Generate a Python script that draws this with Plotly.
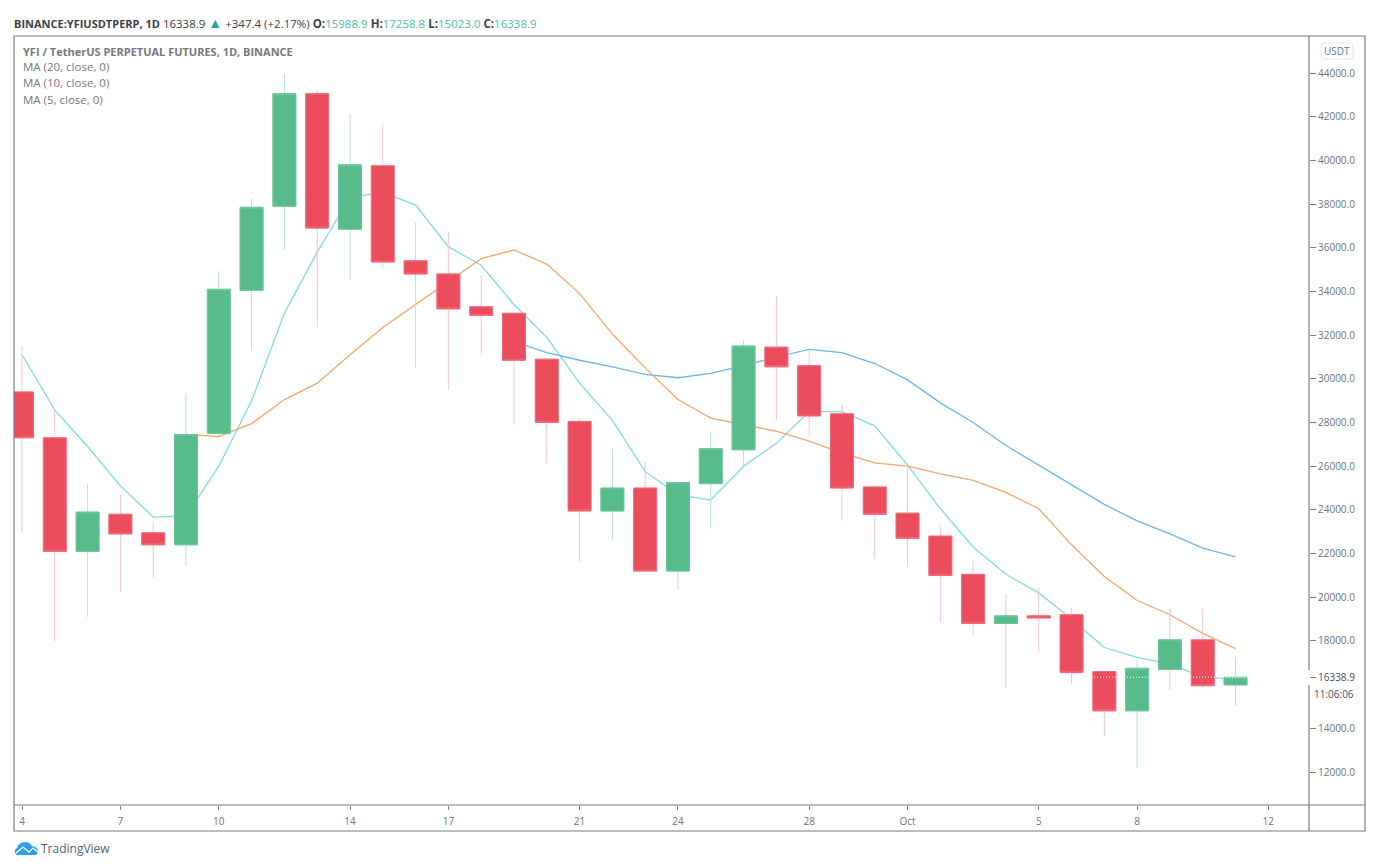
import pandas as pd
import plotly.graph_objects as go

dates = pd.date_range("2020-09-04", "2020-10-11").strftime("%Y-%m-%d").tolist()

opens = [29400, 27300, 22100, 23800, 22950, 22400, 27500, 34050, 37900, 43050, 36850, 39750, 35400,
         34800, 33300, 33000, 30900, 28050, 23950, 25000, 21200, 25200, 26750, 31450, 30600, 28400,
         25050, 23850, 22800, 21050, 18800, 19150, 19200, 16600, 14800, 16700, 18050, 15988.9]
highs = [31500, 28600, 25200, 24700, 23450, 29350, 34950, 38250, 43950, 43250, 42150, 41650, 37150,
         36700, 34750, 33000, 30950, 28200, 26800, 26200, 25300, 27550, 31800, 33800, 31300, 28850,
         25150, 26050, 23300, 21700, 20150, 20450, 19500, 16650, 17250, 19500, 19450, 17258.8]
lows = [23000, 18000, 19100, 20250, 20900, 21450, 27400, 31300, 35900, 32350, 34500, 35100, 30500,
        29500, 31100, 27900, 26150, 21600, 22600, 21150, 20350, 23150, 25900, 28100, 27400, 23500,
        21800, 21450, 18850, 18300, 15850, 17450, 16050, 13650, 12150, 15750, 15800, 15023]
closes = [27300, 22100, 23900, 22900, 22400, 27450, 34100, 37850, 43050, 36900, 39800, 35350, 34800,
          33200, 32900, 30850, 28000, 23950, 25000, 21200, 25250, 26800, 31500, 30550, 28300, 25000,
          23800, 22700, 21000, 18800, 19150, 19050, 16550, 14800, 16750, 18050, 15950, 16338.9]

ma5 = [31100, 28570, 26900, 25100, 23670, 23720, 26000, 29000, 33000, 35800, 38300, 38550, 37950,
       36050, 35200, 33400, 31900, 29800, 28100, 25750, 24700, 24450, 26000, 27050, 28500, 28500,
       27850, 26050, 24050, 22300, 21050, 20200, 19000, 17700, 17250, 16950, 16350, 16250]
ma10 = [None] * 5 + [27450, 27350, 27950, 29050, 29800, 31100, 32350, 33400, 34450, 35500, 35900,
                     35250, 33900, 32050, 30500, 29050, 28200, 27900, 27600, 27150, 26600, 26150,
                     26000, 25650, 25350, 24800, 24050, 22400, 20950, 19850, 19200, 18350, 17650]
ma20 = [None] * 15 + [31700, 31200, 30850, 30550, 30200, 30050, 30250, 30600, 31000, 31350, 31200,
                      30700, 29950, 28900, 28000, 26950, 26050, 25150, 24250, 23500, 22900, 22250,
                      21850]

price_ticks = [12000, 14000, 16338.9, 18000, 20000, 22000, 24000, 26000, 28000, 30000, 32000, 34000,
               36000, 38000, 40000, 42000, 44000]
price_labels = ["12000.0", "14000.0", "<span style='color:#4a4d57'>16338.9</span>", "18000.0", "20000.0",
                "22000.0", "24000.0", "26000.0", "28000.0", "30000.0", "32000.0", "34000.0", "36000.0",
                "38000.0", "40000.0", "42000.0", "44000.0"]
time_ticks = ["2020-09-04", "2020-09-07", "2020-09-10", "2020-09-14", "2020-09-17", "2020-09-21", "2020-09-24",
              "2020-09-28", "2020-10-01", "2020-10-05", "2020-10-08", "2020-10-12"]
time_labels = ["4", "7", "10", "14", "17", "21", "24", "28", "Oct", "5", "8", "12"]

last_price = 16338.9
legend_lines = ["MA (20, close, 0)", "MA (10, close, 0)", "MA (5, close, 0)"]

W, H = 1383, 868
L, R, T, B = 14, 1309, 36, 805
FONT = "Open Sans"
GREY = "#6f727c"
FRAME = "#7b7d82"
UP, DOWN = "#57bb8a", "#eb4d5c"
x_range = ["2020-09-03 18:08", "2020-10-13 05:45"]
y_range = [10490, 45694]


# pixel position of the screenshot -> paper coordinates
def px(x):
    return (x - L) / (R - L)


def py(y):
    return (B - y) / (B - T)


fig = go.Figure()

fig.add_trace(go.Scatter(x=dates, y=ma5, mode="lines", line=dict(color="#7fdbe0", width=1.3)))
fig.add_trace(go.Scatter(x=dates, y=ma10, mode="lines", line=dict(color="#f9a46b", width=1.3)))
fig.add_trace(go.Scatter(x=dates, y=ma20, mode="lines", line=dict(color="#6ab7ee", width=1.3)))

# wicks are paler than the bodies, so they get their own trace underneath
fig.add_trace(go.Candlestick(
    x=dates, open=opens, high=highs, low=lows, close=closes, xaxis="x2", yaxis="y2",
    increasing=dict(line=dict(color="#b5dfe0", width=1), fillcolor="#b5dfe0"),
    decreasing=dict(line=dict(color="#f9c3cd", width=1), fillcolor="#f9c3cd"),
))
fig.add_trace(go.Candlestick(
    x=dates, open=opens, close=closes, xaxis="x2", yaxis="y2",
    high=[max(o, c) for o, c in zip(opens, closes)],
    low=[min(o, c) for o, c in zip(opens, closes)],
    increasing=dict(line=dict(color="#6cc69a", width=1), fillcolor=UP),
    decreasing=dict(line=dict(color="#f0697a", width=1), fillcolor=DOWN),
))

shapes = [
    # white dotted last price line
    dict(type="line", xref="paper", yref="y", x0=0, x1=1, y0=last_price, y1=last_price,
         line=dict(color="white", width=1, dash="1px,2px")),
    # frame and separators
    dict(type="rect", xref="paper", yref="paper", x0=px(14), x1=px(1365), y0=py(36), y1=py(831),
         line=dict(color=FRAME, width=1.2)),
    dict(type="line", xref="paper", yref="paper", x0=px(1309), x1=px(1309), y0=py(36), y1=py(831),
         line=dict(color=FRAME, width=1.2)),
    dict(type="line", xref="paper", yref="paper", x0=px(14), x1=px(1365), y0=py(805), y1=py(805),
         line=dict(color=FRAME, width=1.2)),
    # gap in the separator behind the price label
    dict(type="rect", xref="paper", yref="paper", x0=px(1307.5), x1=px(1310.5), y0=py(670), y1=py(685),
         line=dict(width=0), fillcolor="white"),
    # USDT button
    dict(type="path", xref="paper", yref="paper", line=dict(color="#e3e4e9", width=1),
         path=f"M {px(1324)} {py(43)} L {px(1350)} {py(43)} Q {px(1353)} {py(43)} {px(1353)} {py(46)} "
              f"L {px(1353)} {py(56)} Q {px(1353)} {py(59)} {px(1350)} {py(59)} L {px(1324)} {py(59)} "
              f"Q {px(1321)} {py(59)} {px(1321)} {py(56)} L {px(1321)} {py(46)} Q {px(1321)} {py(43)} {px(1324)} {py(43)} Z"),
    # TradingView cloud
    dict(type="path", xref="paper", yref="paper", line=dict(width=0), fillcolor="#2f9eec",
         path=f"M {px(17)} {py(855)} Q {px(12)} {py(851)} {px(17)} {py(848)} Q {px(19)} {py(842)} {px(25)} {py(842)} "
              f"Q {px(30)} {py(842)} {px(32)} {py(846)} Q {px(38)} {py(847)} {px(38)} {py(851)} Q {px(38)} {py(855)} {px(34)} {py(855)} Z"),
    dict(type="path", xref="paper", yref="paper", line=dict(color="white", width=1.3),
         path=f"M {px(16)} {py(853)} L {px(23)} {py(847)} L {px(29)} {py(852)} L {px(33)} {py(848)} L {px(38)} {py(852)}"),
]


def label(x, y, text, color=GREY, size=11.5, anchor="left"):
    return dict(xref="paper", yref="paper", x=px(x), y=py(y), text=text, showarrow=False, xanchor=anchor,
                yanchor="middle", align="left", font=dict(family=FONT, size=size, color=color))


teal = "#53b9a8"
header = (f"<b style='font-size:11px'>BINANCE:YFIUSDTPERP, 1D</b> 16338.9 "
          f"<span style='color:#26a69a;font-size:14px'>▲</span> +347.4 (+2.17%) "
          f"<b>O:</b><span style='color:{teal}'>15988.9</span> <b>H:</b><span style='color:{teal}'>17258.8</span> "
          f"<b>L:</b><span style='color:{teal}'>15023.0</span> <b>C:</b><span style='color:{teal}'>16338.9</span>")

annotations = [label(12, 22, header, color="#3c3f47", size=11.5)]
annotations.append(label(21, 51, "<b>YFI / TetherUS PERPETUAL FUTURES, 1D, BINANCE</b>", color="#77797f", size=11))
for i, txt in enumerate(legend_lines):
    annotations.append(label(21, 67 + 16 * i, txt, color="#77797f", size=11.5))
annotations.append(label(1337, 51, "USDT", size=10, anchor="center"))
annotations.append(label(1356, 694, "11:06:06", color="#4a4d57", size=10, anchor="right"))
annotations.append(label(39, 849, "TradingView", color="#5d606b", size=12))

fig.update_layout(
    width=W, height=H,
    margin=dict(l=L, r=W - R, t=T, b=H - B, autoexpand=False),
    paper_bgcolor="white", plot_bgcolor="white",
    showlegend=False, boxgap=0, boxmode="overlay",
    font=dict(family=FONT, size=10, color=GREY),
    shapes=shapes, annotations=annotations,
    xaxis=dict(type="date", range=x_range, tickmode="array", tickvals=time_ticks, ticktext=time_labels,
               showgrid=False, zeroline=False, showline=False, ticks="outside", ticklen=4, tickcolor=FRAME,
               tickangle=0, ticklabelstandoff=3, rangeslider=dict(visible=False), tickfont=dict(size=10, color=GREY)),
    yaxis=dict(side="right", range=y_range, tickmode="array", tickvals=price_ticks, ticktext=price_labels,
               showgrid=False, zeroline=False, showline=False, ticks="outside", ticklen=6, tickcolor=FRAME,
               tickfont=dict(size=10, color=GREY)),
    # candles live on overlay axes so that they are drawn over the MA lines
    xaxis2=dict(type="date", range=x_range, overlaying="x", visible=False, rangeslider=dict(visible=False)),
    yaxis2=dict(range=y_range, overlaying="y", visible=False),
)

fig.write_html("out.html", config=dict(displayModeBar=False),
               post_script="document.body.style.margin='0';")
